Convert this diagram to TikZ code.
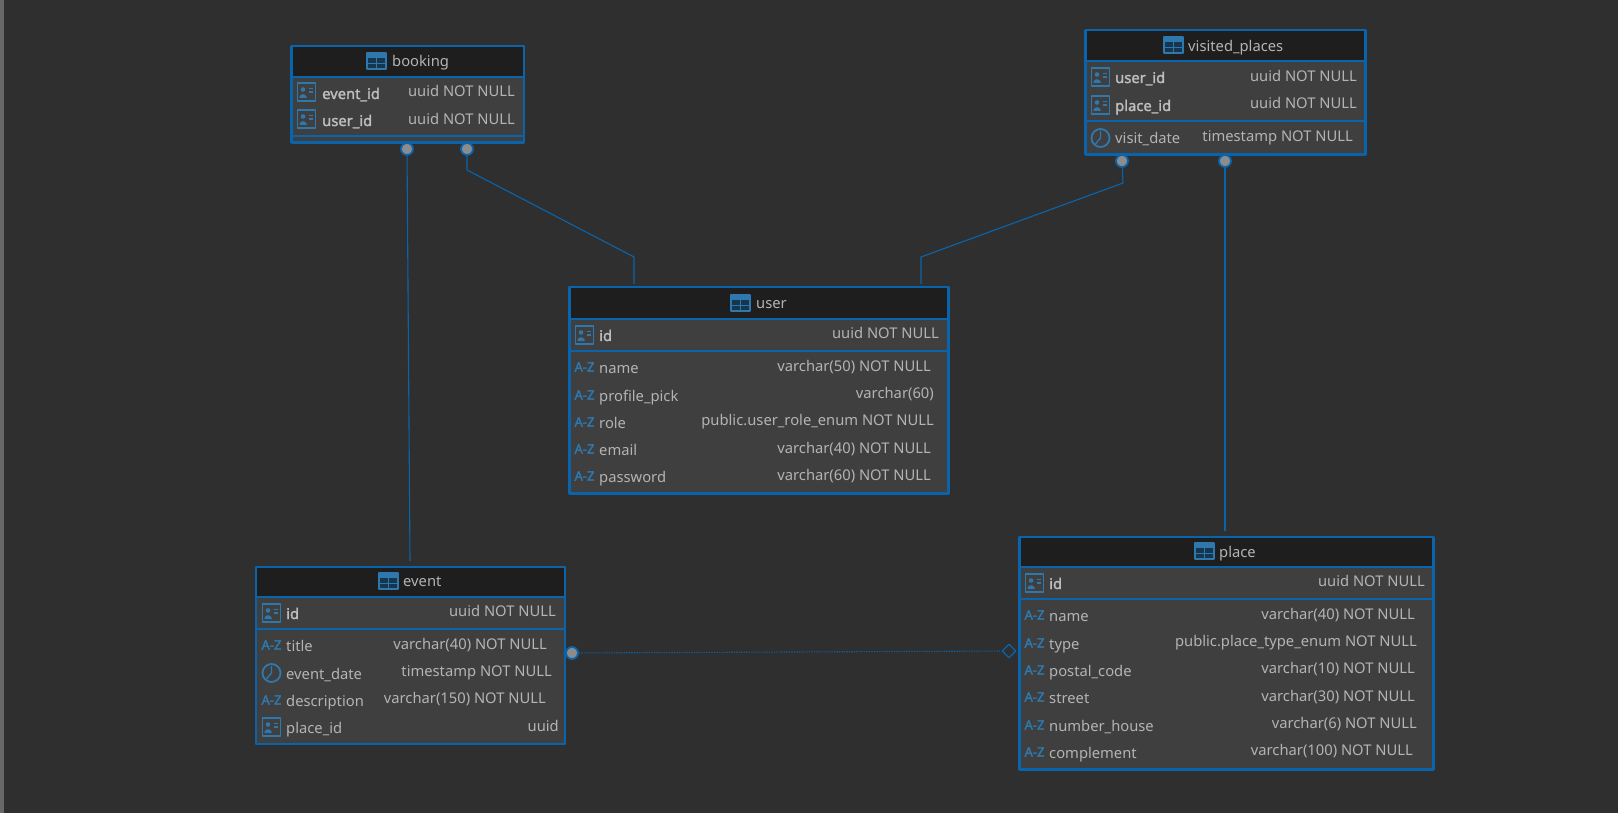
\documentclass[tikz,border=0pt]{standalone}
\usepackage{fontspec}
\setmainfont{Noto Sans}
\newfontface\keybold{Noto Sans}[FakeBold=1.8]
\newfontface\azbold{Noto Sans}[FakeBold=2.4]
\usetikzlibrary{shapes.geometric}
\definecolor{canvas}{HTML}{2F2F2F}
\definecolor{strip}{HTML}{686868}
\definecolor{headfill}{HTML}{1E1E1E}
\definecolor{rowfill}{HTML}{3F3F3F}
\definecolor{tabblue}{HTML}{0A64AC}
\definecolor{iconblue}{HTML}{2F78AE}
\definecolor{inktext}{HTML}{B4B4B4}
\definecolor{inkkey}{HTML}{BEBEBE}
\tikzset{
	tabbox/.style={fill=rowfill,anchor=north west,inner sep=0,outer sep=0},
	tabline/.style={draw=tabblue,line width=2.7},
	sepline/.style={draw=tabblue,line width=1.7},
	link/.style={draw=tabblue,line width=1.1},
	endpt/.style={circle,fill=gray!90,draw=tabblue,line width=1.8,minimum size=12,inner sep=0},
	colname/.style={anchor=base west,inner sep=0,text=inktext,font=\fontsize{14.75}{18}\selectfont},
	colkey/.style={colname,text=inkkey,font=\fontsize{14.75}{18}\keybold},
	coltype/.style={anchor=base east,inner sep=0,text=inktext,font=\fontsize{14.75}{18}\selectfont},
	pics/keyicon/.style={code={
		\draw[iconblue,line width=1.5] (-9,-9) rectangle (9,9);
		\fill[iconblue] (-3.5,-2.5) circle (2.3);
		\fill[iconblue] (-7,6) -- (-7,4.5) .. controls (-6,1.5) and (-1,1.5) .. (0,4.5) -- (0,6) -- cycle;
		\draw[iconblue,line width=1.2] (2,-3.5) -- (6.5,-3.5) (2,0) -- (6.5,0);
	}},
	pics/clockicon/.style={code={
		\draw[iconblue,line width=1.8] (0,0) circle (9);
		\draw[iconblue,line width=1.3] (0,-7) -- (0,0) -- (-5,6);
	}},
	pics/azicon/.style={code={
		\node[inner sep=0,text=iconblue,font=\fontsize{13}{14}\azbold] (az) at (0,0) {A-Z};
	}},
	pics/gridicon/.style={code={
		\fill[iconblue!45!black] (-9.5,-8) rectangle (9.5,8);
		\fill[iconblue] (-9.5,-8) rectangle (9.5,-3);
		\draw[iconblue,line width=1.3] (-9.5,-8) rectangle (9.5,8) (-9.5,2.5) -- (9.5,2.5) (0,-3) -- (0,8);
	}},
}
\begin{document}
\begin{tikzpicture}[x=1pt,y=-1pt,line join=round]
	\useasboundingbox (0,0) rectangle (1618,813);
	\fill[canvas] (0,0) rectangle (1618,813);
	\fill[strip] (0,0) rectangle (4,813);
	% tables
	\foreach \tb/\xa/\ya/\bw/\bh/\ys/\yk/\xi/\yi/\xt/\yt/\ti in {
		booking/291.5/46/232.5/96.5/77/136/376.5/61/392/67/booking,
		user/569.5/287/379/206.5/319/351/740.5/303/756/308.5/user,
		visited/1085.5/30/280/124.5/61/121/1173.5/45/1188/52/visited\_places,
		event/256/567/309/177/597/629/388.5/581/403/586/event,
		place/1019.5/537/414/232.5/567/599/1204.5/551/1219/557/place}
	{
		\node[tabbox,minimum width=\bw,minimum height=\bh] (\tb) at (\xa,\ya) {};
		\fill[headfill] (\tb.north west) rectangle (\tb.east |- 0,\ys);
		\draw[sepline] (\tb.west |- 0,\ys) -- (\tb.east |- 0,\ys) (\tb.west |- 0,\yk) -- (\tb.east |- 0,\yk);
		\draw[tabline] (\tb.north west) rectangle (\tb.south east);
		\pic (\tb i) at (\xi,\yi) {gridicon};
		\node[colname] (\tb title) at (\xt,\yt) {\ti};
	}
	% booking rows
	\foreach \rw/\ic/\sty/\lab/\yn/\ty/\yb/\xr in {
		bka/keyicon/colkey/event\_id/99/uuid NOT NULL/97/515,
		bkb/keyicon/colkey/user\_id/126/uuid NOT NULL/125/515}
	{
		\pic (\rw i) at (306.5,\yn-7) {\ic};
		\node[\sty] (\rw n) at (322,\yn) {\lab};
		\node[coltype] (\rw t) at (\xr,\yb) {\ty};
	}
	% user rows
	\foreach \rw/\ic/\sty/\lab/\yn/\ty/\yb/\xr in {
		usa/keyicon/colkey/id/341/uuid NOT NULL/338/939,
		usb/azicon/colname/name/373/varchar(50) NOT NULL/371/931,
		usc/azicon/colname/profile\_pick/401/varchar(60)/398/934,
		usd/azicon/colname/role/428/public.user\_role\_enum NOT NULL/425/934,
		use/azicon/colname/email/455/varchar(40) NOT NULL/453/931,
		usf/azicon/colname/password/482/varchar(60) NOT NULL/480/931}
	{
		\pic (\rw i) at (584.5,\yn-6) {\ic};
		\node[\sty] (\rw n) at (599,\yn) {\lab};
		\node[coltype] (\rw t) at (\xr,\yb) {\ty};
	}
	% visited_places rows
	\foreach \rw/\ic/\sty/\lab/\yn/\ty/\yb/\xr in {
		via/keyicon/colkey/user\_id/83/uuid NOT NULL/82/1357,
		vib/keyicon/colkey/place\_id/111/uuid NOT NULL/109/1357,
		vic/clockicon/colname/visit\_date/144/timestamp NOT NULL/142/1353}
	{
		\pic (\rw i) at (1100.5,\yn-6) {\ic};
		\node[\sty] (\rw n) at (1115,\yn) {\lab};
		\node[coltype] (\rw t) at (\xr,\yb) {\ty};
	}
	% event rows
	\foreach \rw/\ic/\sty/\lab/\yn/\ty/\yb/\xr in {
		eva/keyicon/colkey/id/619/uuid NOT NULL/616/556,
		evb/azicon/colname/title/651/varchar(40) NOT NULL/649/547,
		evc/clockicon/colname/event\_date/679/timestamp NOT NULL/676/552,
		evd/azicon/colname/description/706/varchar(150) NOT NULL/703/546,
		eve/keyicon/colname/place\_id/733/uuid/731/559}
	{
		\pic (\rw i) at (271.5,\yn-6) {\ic};
		\node[\sty] (\rw n) at (286,\yn) {\lab};
		\node[coltype] (\rw t) at (\xr,\yb) {\ty};
	}
	% place rows
	\foreach \rw/\ic/\sty/\lab/\yn/\ty/\yb/\xr in {
		pla/keyicon/colkey/id/589/uuid NOT NULL/586/1425,
		plb/azicon/colname/name/621/varchar(40) NOT NULL/619/1415,
		plc/azicon/colname/type/649/public.place\_type\_enum NOT NULL/646/1417,
		pld/azicon/colname/postal\_code/676/varchar(10) NOT NULL/673/1415,
		ple/azicon/colname/street/703/varchar(30) NOT NULL/701/1415,
		plf/azicon/colname/number\_house/731/varchar(6) NOT NULL/728/1417,
		plg/azicon/colname/complement/758/varchar(100) NOT NULL/755/1413}
	{
		\pic (\rw i) at (1034.5,\yn-6) {\ic};
		\node[\sty] (\rw n) at (1049,\yn) {\lab};
		\node[coltype] (\rw t) at (\xr,\yb) {\ty};
	}
	% connectors
	\path
	(410,561) coordinate (evtop)
	(467,170) coordinate (bkbend)
	(634,257) coordinate (usbendl)
	(634,284) coordinate (ustopl)
	(1123,183) coordinate (vibend)
	(921,257) coordinate (usbendr)
	(921,284) coordinate (ustopr)
	(1225,531) coordinate (pltop)
	;
	\node[endpt] (bkevent) at (407,149) {};
	\node[endpt] (bkuser) at (467,149) {};
	\node[endpt] (viuser) at (1122,161) {};
	\node[endpt] (viplace) at (1225,161) {};
	\node[endpt] (evplace) at (572,653) {};
	\node[diamond,draw=tabblue,line width=1.2,inner sep=0,minimum size=14] (plevent) at (1009,651) {};
	\draw[link] (bkevent) -- (evtop);
	\draw[link] (bkuser) -- (bkbend) -- (usbendl) -- (ustopl);
	\draw[link] (viuser) -- (vibend) -- (usbendr) -- (ustopr);
	\draw[link] (viplace) -- (pltop);
	\draw[link,dash pattern=on 1.2pt off 1.3pt] (evplace) -- (plevent);
\end{tikzpicture}
\end{document}
